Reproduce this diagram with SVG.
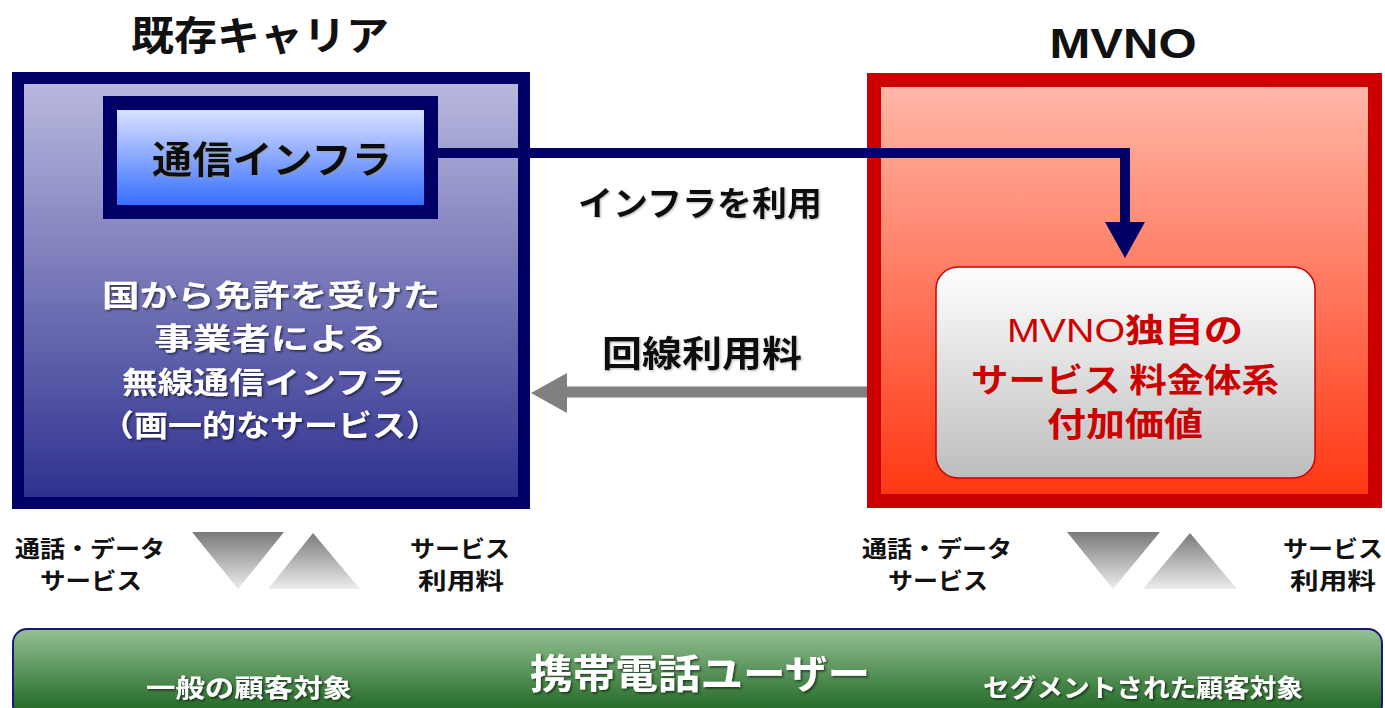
<svg xmlns="http://www.w3.org/2000/svg" width="1385" height="708" viewBox="0 0 1385 708">
<defs>
<linearGradient id="gLeft" x1="0" y1="0" x2="0" y2="1"><stop offset="0" stop-color="#babadf"/><stop offset="1" stop-color="#2e2f8e"/></linearGradient>
<linearGradient id="gInfra" x1="0" y1="0" x2="0" y2="1"><stop offset="0" stop-color="#e6e9ff"/><stop offset="1" stop-color="#2a66ff"/></linearGradient>
<linearGradient id="gRight" x1="0" y1="0" x2="0" y2="1"><stop offset="0" stop-color="#ffb9aa"/><stop offset="1" stop-color="#ff3510"/></linearGradient>
<linearGradient id="gInner" x1="0" y1="0" x2="0" y2="1"><stop offset="0" stop-color="#ffffff"/><stop offset="1" stop-color="#bdbdbd"/></linearGradient>
<linearGradient id="gTri" x1="0" y1="0" x2="0" y2="1"><stop offset="0" stop-color="#7a7a7a"/><stop offset="1" stop-color="#ececec"/></linearGradient>
<linearGradient id="gGreen" x1="0" y1="0" x2="0" y2="1"><stop offset="0" stop-color="#95c195"/><stop offset="1" stop-color="#17601a"/></linearGradient>
<filter id="shD" x="-5%" y="-20%" width="110%" height="140%"><feDropShadow dx="1.5" dy="1.5" stdDeviation="1" flood-color="#000" flood-opacity="0.6"/></filter>
<filter id="shL" x="-5%" y="-20%" width="110%" height="140%"><feDropShadow dx="1" dy="1" stdDeviation="1" flood-color="#999" flood-opacity="0.7"/></filter>
</defs>
<style>
text{font-family:"Noto Sans CJK JP","Liberation Sans",sans-serif;font-weight:bold;text-anchor:middle}
.ttl{font-size:40px;fill:#111}
.blk{fill:#111;filter:url(#shL)}
.wht{fill:#fff;filter:url(#shD)}
.red{fill:#cc0000;font-size:33px}
.lbl{font-size:23px;fill:#111}
</style>

<g id="title-carrier"><text class="ttl" x="260" y="50" textLength="258" lengthAdjust="spacingAndGlyphs">既存キャリア</text></g>
<g id="title-mvno"><text class="ttl" x="1123" y="58" style="font-family:'Liberation Sans',sans-serif;font-size:42px" textLength="147" lengthAdjust="spacingAndGlyphs">MVNO</text></g>

<g id="carrier">
<rect x="18" y="78" width="506" height="425" fill="url(#gLeft)" stroke="#000066" stroke-width="12"/>
<g class="wht" style="font-size:30px">
<text x="271" y="306" textLength="338" lengthAdjust="spacingAndGlyphs">国から免許を受けた</text>
<text x="270" y="349" textLength="232" lengthAdjust="spacingAndGlyphs">事業者による</text>
<text x="264" y="393" textLength="284" lengthAdjust="spacingAndGlyphs">無線通信インフラ</text>
<text x="270" y="436" textLength="340" lengthAdjust="spacingAndGlyphs">（画一的なサービス）</text>
</g>
</g>

<g id="infra">
<rect x="110" y="103" width="321" height="109" fill="url(#gInfra)" stroke="#000066" stroke-width="14"/>
<text class="blk" x="272" y="173" style="font-size:38px" textLength="240" lengthAdjust="spacingAndGlyphs">通信インフラ</text>
</g>

<g id="mvno">
<rect x="874" y="80" width="501" height="421" fill="url(#gRight)" stroke="#cc0000" stroke-width="14"/>
</g>

<g id="mvno-service">
<rect x="936" y="267" width="379" height="211" rx="22" fill="url(#gInner)" stroke="#cc0000" stroke-width="1.5"/>
<text class="red" x="1125" y="342" textLength="236" lengthAdjust="spacingAndGlyphs"><tspan style="font-family:'Liberation Sans',sans-serif;font-weight:normal">MVNO</tspan>独自の</text>
<text class="red" x="1125" y="392" textLength="308" lengthAdjust="spacingAndGlyphs">サービス 料金体系</text>
<text class="red" x="1125" y="436" textLength="156" lengthAdjust="spacingAndGlyphs">付加価値</text>
</g>

<g id="connectors">
<path d="M437,153 H1125 V226" fill="none" stroke="#000066" stroke-width="10"/>
<polygon points="1105,222 1145,222 1125,258" fill="#000066"/>
<line x1="867" y1="392" x2="562" y2="392" stroke="#808080" stroke-width="11"/>
<polygon points="567,373 567,413 531,393" fill="#808080"/>
<text class="blk" x="700" y="216" style="font-size:34px" textLength="244" lengthAdjust="spacingAndGlyphs">インフラを利用</text>
<text class="blk" x="702" y="367" style="font-size:36px" textLength="200" lengthAdjust="spacingAndGlyphs">回線利用料</text>
</g>

<g id="flow-left">
<polygon points="192,532 284,532 238,589" fill="url(#gTri)"/>
<polygon points="268,589 360,589 313,533" fill="url(#gTri)"/>
<text class="lbl" x="90" y="557" textLength="150" lengthAdjust="spacingAndGlyphs">通話・データ</text>
<text class="lbl" x="91" y="589" textLength="102" lengthAdjust="spacingAndGlyphs">サービス</text>
<text class="lbl" x="460" y="557" textLength="100" lengthAdjust="spacingAndGlyphs">サービス</text>
<text class="lbl" x="461" y="589" textLength="86" lengthAdjust="spacingAndGlyphs">利用料</text>
</g>

<g id="flow-right">
<polygon points="1067,532 1160,532 1113,589" fill="url(#gTri)"/>
<polygon points="1143,589 1237,589 1190,533" fill="url(#gTri)"/>
<text class="lbl" x="937" y="557" textLength="150" lengthAdjust="spacingAndGlyphs">通話・データ</text>
<text class="lbl" x="938" y="589" textLength="100" lengthAdjust="spacingAndGlyphs">サービス</text>
<text class="lbl" x="1333" y="557" textLength="100" lengthAdjust="spacingAndGlyphs">サービス</text>
<text class="lbl" x="1333" y="589" textLength="86" lengthAdjust="spacingAndGlyphs">利用料</text>
</g>

<g id="users">
<rect x="13" y="629" width="1369" height="90" rx="14" fill="url(#gGreen)" stroke="#1a1a6e" stroke-width="2"/>
<text class="wht" x="700" y="688" style="font-size:40px" textLength="340" lengthAdjust="spacingAndGlyphs">携帯電話ユーザー</text>
<text class="wht" x="249" y="697" style="font-size:25px" textLength="206" lengthAdjust="spacingAndGlyphs">一般の顧客対象</text>
<text class="wht" x="1143" y="697" style="font-size:25px" textLength="320" lengthAdjust="spacingAndGlyphs">セグメントされた顧客対象</text>
</g>
</svg>
